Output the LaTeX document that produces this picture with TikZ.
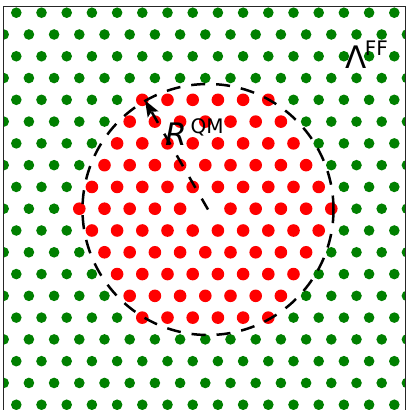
\documentclass[tikz,border=0pt]{standalone}
\usepackage{fontspec}
\setmainfont{DejaVu Sans}
\usetikzlibrary{arrows.meta}
\definecolor{mgreen}{HTML}{008000}
\definecolor{mred}{HTML}{FF0000}
\tikzset{
  circdash/.style={line width=2.5pt, dash pattern=on 14pt off 11pt, line cap=butt},
  arrdash/.style={line width=2.5pt, dash pattern=on 12.5pt off 12.5pt, line cap=butt,
    -{Stealth[length=16pt,width=12pt,inset=3pt]}},
  bigtxt/.style={inner sep=0pt, anchor=base west, font=\fontsize{31}{31}\selectfont},
  suptxt/.style={inner sep=0pt, anchor=base west, font=\fontsize{20}{20}\selectfont},
  framel/.style={line width=1pt, black!85}
}
\begin{document}
\begin{tikzpicture}[x=1pt,y=-1pt]
\useasboundingbox (0,0) rectangle (408,410);
\fill[white] (0,0) rectangle (408,410);
\begin{scope}
\clip (3.3,6.7) rectangle (405.5,412);
\foreach \k in {0,...,18}{
  \pgfmathsetmacro{\y}{12.7+21.78*\k}
  \pgfmathtruncatemacro{\odd}{mod(\k,2)}
  \foreach \j in {0,...,16}{
    \pgfmathsetmacro{\u}{\j + (1-\odd)*0.5}
    \pgfmathsetmacro{\x}{3.7+25.2*\u}
    \pgfmathsetmacro{\v}{(\k-9)*0.8660254}
    \pgfmathsetmacro{\dd}{(\u-8)*(\u-8)+(\v)*(\v)}
    \ifdim\dd pt<0.01pt\relax\else
      \ifdim\dd pt<25.01pt\relax
        \fill[mred] (\x,\y) circle (6.3);
      \else
        \fill[mgreen] (\x,\y) circle (5.3);
      \fi
    \fi
  }
}
\end{scope}
\draw[framel] (3.3,412) -- (3.3,6.7) -- (405.5,6.7) -- (405.5,412);
\coordinate (c) at (208,209.5);
\coordinate (tip) at (145,100.4);
\draw[circdash] (c) ++(125.5,0) arc[start angle=0, end angle=-360, radius=125.5];
\draw[arrdash] (c) -- (tip);
\node[bigtxt] (rl) at (165,145) {\itshape R};
\node[suptxt] (rs) at (190.5,133.3) {QM};
\node[bigtxt] (ll) at (345.5,68.3) {Λ};
\node[suptxt] (ls) at (364.7,55) {FF};
\end{tikzpicture}
\end{document}
